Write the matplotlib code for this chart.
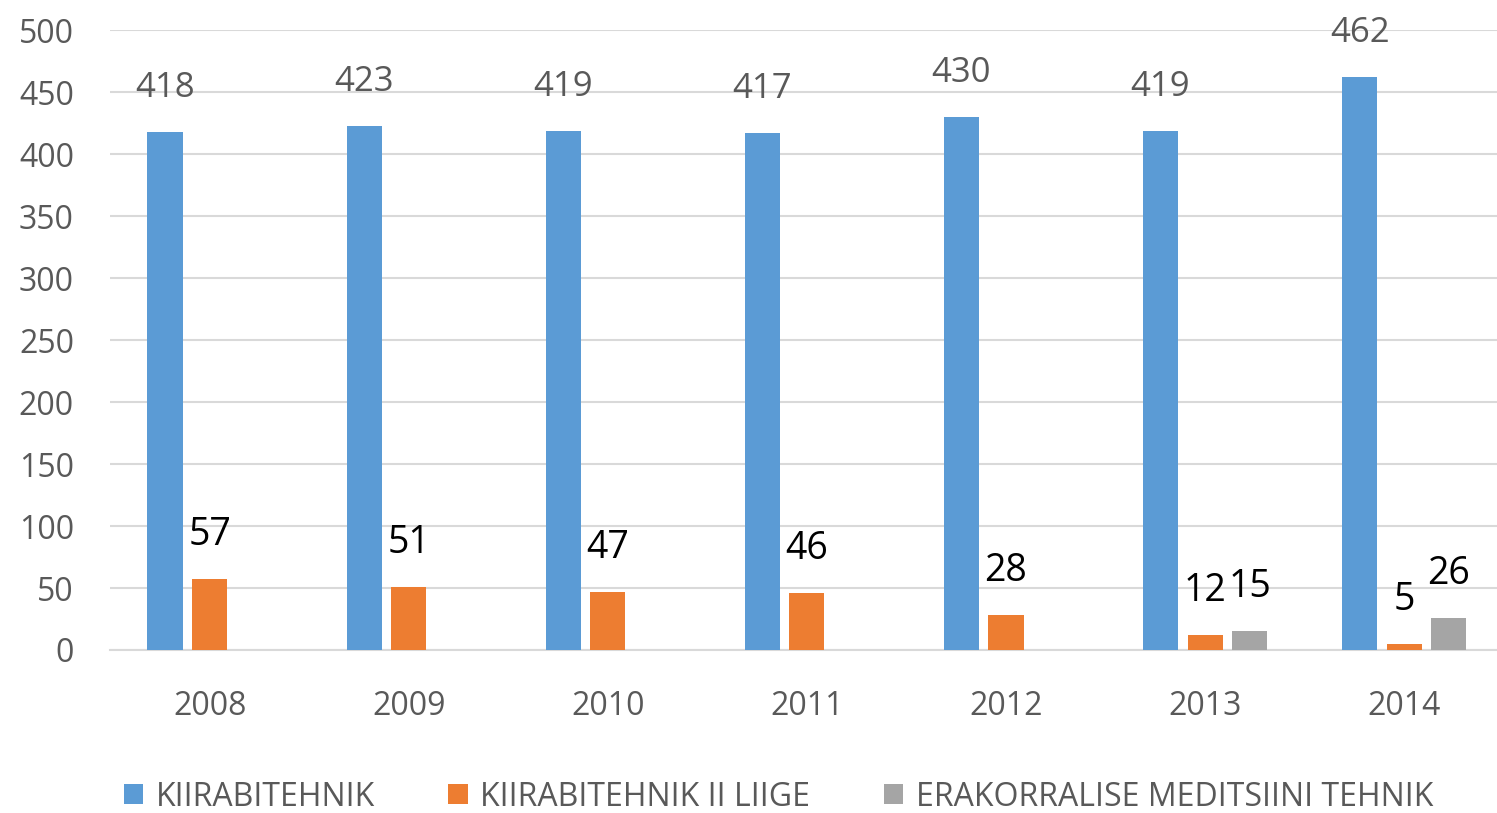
import numpy as np
import matplotlib
matplotlib.use("Agg")
import matplotlib.pyplot as plt

plt.rcParams['font.family'] = ['Open Sans', 'DejaVu Sans']

# ------------------------------------------------------------
# Data
# ------------------------------------------------------------
years = ["2008", "2009", "2010", "2011", "2012", "2013", "2014"]
kiirabitehnik = [418, 423, 419, 417, 430, 419, 462]
kiirabitehnik_ii = [57, 51, 47, 46, 28, 12, 5]
erakorralise = [np.nan, np.nan, np.nan, np.nan, np.nan, 15, 26]

series_names = ["KIIRABITEHNIK", "KIIRABITEHNIK II LIIGE",
                "ERAKORRALISE MEDITSIINI TEHNIK"]
colors = ["#5B9BD5", "#ED7D31", "#A5A5A5"]
label_colors = ["#595959", "#000000", "#000000"]
label_sizes = [25, 27, 27]

fig = plt.figure(figsize=(14.97, 8.13), dpi=100)
ax = fig.add_axes([0.0735, 0.2005, 0.931, 0.7625])

x = np.arange(len(years))
width = 0.176
offsets = [-0.224, 0.0, 0.224]

for vals, name, col, off, lc, ls in zip(
        [kiirabitehnik, kiirabitehnik_ii, erakorralise],
        series_names, colors, offsets, label_colors, label_sizes):
    vals = np.array(vals, dtype=float)
    ax.bar(x + off, vals, width=width, color=col, label=name, zorder=3)
    for xi, v in zip(x + off, vals):
        if np.isnan(v):
            continue
        ax.annotate(f"{int(v)}", (xi, v), xytext=(0, 44 * 0.72),
                    textcoords="offset points", ha="center", va="center",
                    fontsize=ls, color=lc)

ax.set_xlim(-0.5, 6.5)
ax.set_ylim(0, 500)
ax.set_yticks(np.arange(0, 501, 50))
ax.set_xticks(x)
ax.set_xticklabels(years)
ax.tick_params(axis="both", length=0, labelsize=23, colors="#595959")
ax.tick_params(axis="x", pad=29)
ax.tick_params(axis="y", pad=26)

ax.grid(axis="y", color="#D9D9D9", linewidth=1.5, zorder=0)
for s in ["top", "right", "left"]:
    ax.spines[s].set_visible(False)
ax.spines["bottom"].set_color("#D9D9D9")
ax.spines["bottom"].set_linewidth(1.5)

leg = fig.legend(loc="center", ncol=3,
                 frameon=False, fontsize=23, handlelength=0.6,
                 handleheight=0.6, handletextpad=0.4, columnspacing=2.3,
                 labelcolor="#595959")
leg.set_bbox_to_anchor((0.52, 1 - 797 / 813), transform=fig.transFigure)

fig.savefig("out.png", dpi=100)
